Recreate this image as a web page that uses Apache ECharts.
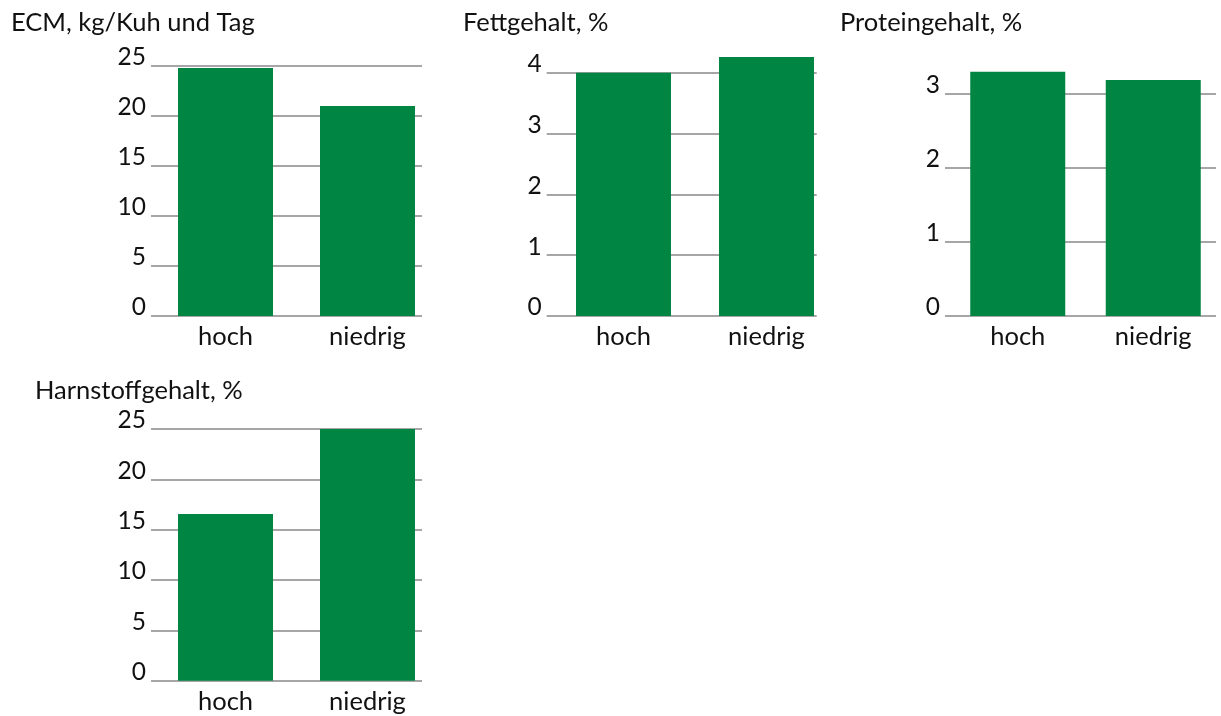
<!DOCTYPE html>
<html><head><meta charset="utf-8">
<script src="https://cdn.jsdelivr.net/npm/echarts@6/dist/echarts.min.js"></script>
<style>html,body{margin:0;padding:0;background:#fff}#c{width:1221px;height:716px}</style>
</head><body><div id="c"></div>
<script>
// ---- data ----
const categories = ['hoch', 'niedrig'];
const titles = ['ECM, kg/Kuh und Tag', 'Fettgehalt, %', 'Proteingehalt, %', 'Harnstoffgehalt, %'];
const ecmValues = [24.8, 21.0];
const fettValues = [4.0, 4.26];
const proteinValues = [3.29, 3.18];
const harnstoffValues = [16.55, 25.0];
const yMax = [25, 4, 3, 25];
const yInterval = [5, 1, 1, 5];

// ---- layout (pixels) ----
const FONT = 'Lato';
const panels = [
  {vals: ecmValues,      gx0: 151,   gx1: 422,  top: 66,   bottom: 316,   bx: 154.5, bw: 284, tx: 11,  ty: 23},
  {vals: fettValues,     gx0: 546.7, gx1: 816.7,top: 72.7, bottom: 316,   bx: 552,   bw: 286, tx: 463, ty: 23},
  {vals: proteinValues,  gx0: 945,   gx1: 1216, top: 93.3, bottom: 316,   bx: 950,   bw: 286, tx: 840, ty: 23},
  {vals: harnstoffValues,gx0: 151,   gx1: 422,  top: 429,  bottom: 680.7, bx: 154.5, bw: 284, tx: 35,  ty: 391}
];

const grid = [], xAxis = [], yAxis = [], series = [], title = [];
panels.forEach((p, i) => {
  const h = p.bottom - p.top;
  grid.push({left: p.gx0, top: p.top, width: p.gx1 - p.gx0, height: h, containLabel: false});
  grid.push({left: p.bx, top: p.top, width: p.bw, height: h, containLabel: false});
  const g0 = 2 * i, g1 = 2 * i + 1;
  xAxis.push({type: 'category', gridIndex: g0, data: categories, show: false});
  yAxis.push({type: 'value', gridIndex: g0, min: 0, max: yMax[i], interval: yInterval[i],
    axisLine: {show: false}, axisTick: {show: false},
    splitLine: {show: true, lineStyle: {color: '#a6a6a6', width: 2}},
    axisLabel: {show: true, color: '#111', fontFamily: FONT, fontSize: 24.5, margin: 5,
      verticalAlign: 'bottom', lineHeight: 17}});
  xAxis.push({type: 'category', gridIndex: g1, data: categories,
    axisLine: {show: false}, axisTick: {show: false},
    axisLabel: {color: '#111', fontFamily: FONT, fontSize: 25.5, margin: 9, lineHeight: 24}});
  yAxis.push({type: 'value', gridIndex: g1, min: 0, max: yMax[i], show: false, splitLine: {show: false}});
  series.push({type: 'bar', xAxisIndex: g1, yAxisIndex: g1, data: p.vals, barWidth: 95,
    clip: false, itemStyle: {color: '#008542'}, z: 3});
  title.push({text: titles[i], left: p.tx, top: p.ty - 14,
    textStyle: {fontFamily: FONT, fontSize: 25.5, fontWeight: 'normal', color: '#111', lineHeight: 28}, padding: 0});
});

const chart = echarts.init(document.getElementById('c'), null, {renderer: 'canvas'});
chart.setOption({animation: false, backgroundColor: '#fff', title, grid, xAxis, yAxis, series});
</script></body></html>
